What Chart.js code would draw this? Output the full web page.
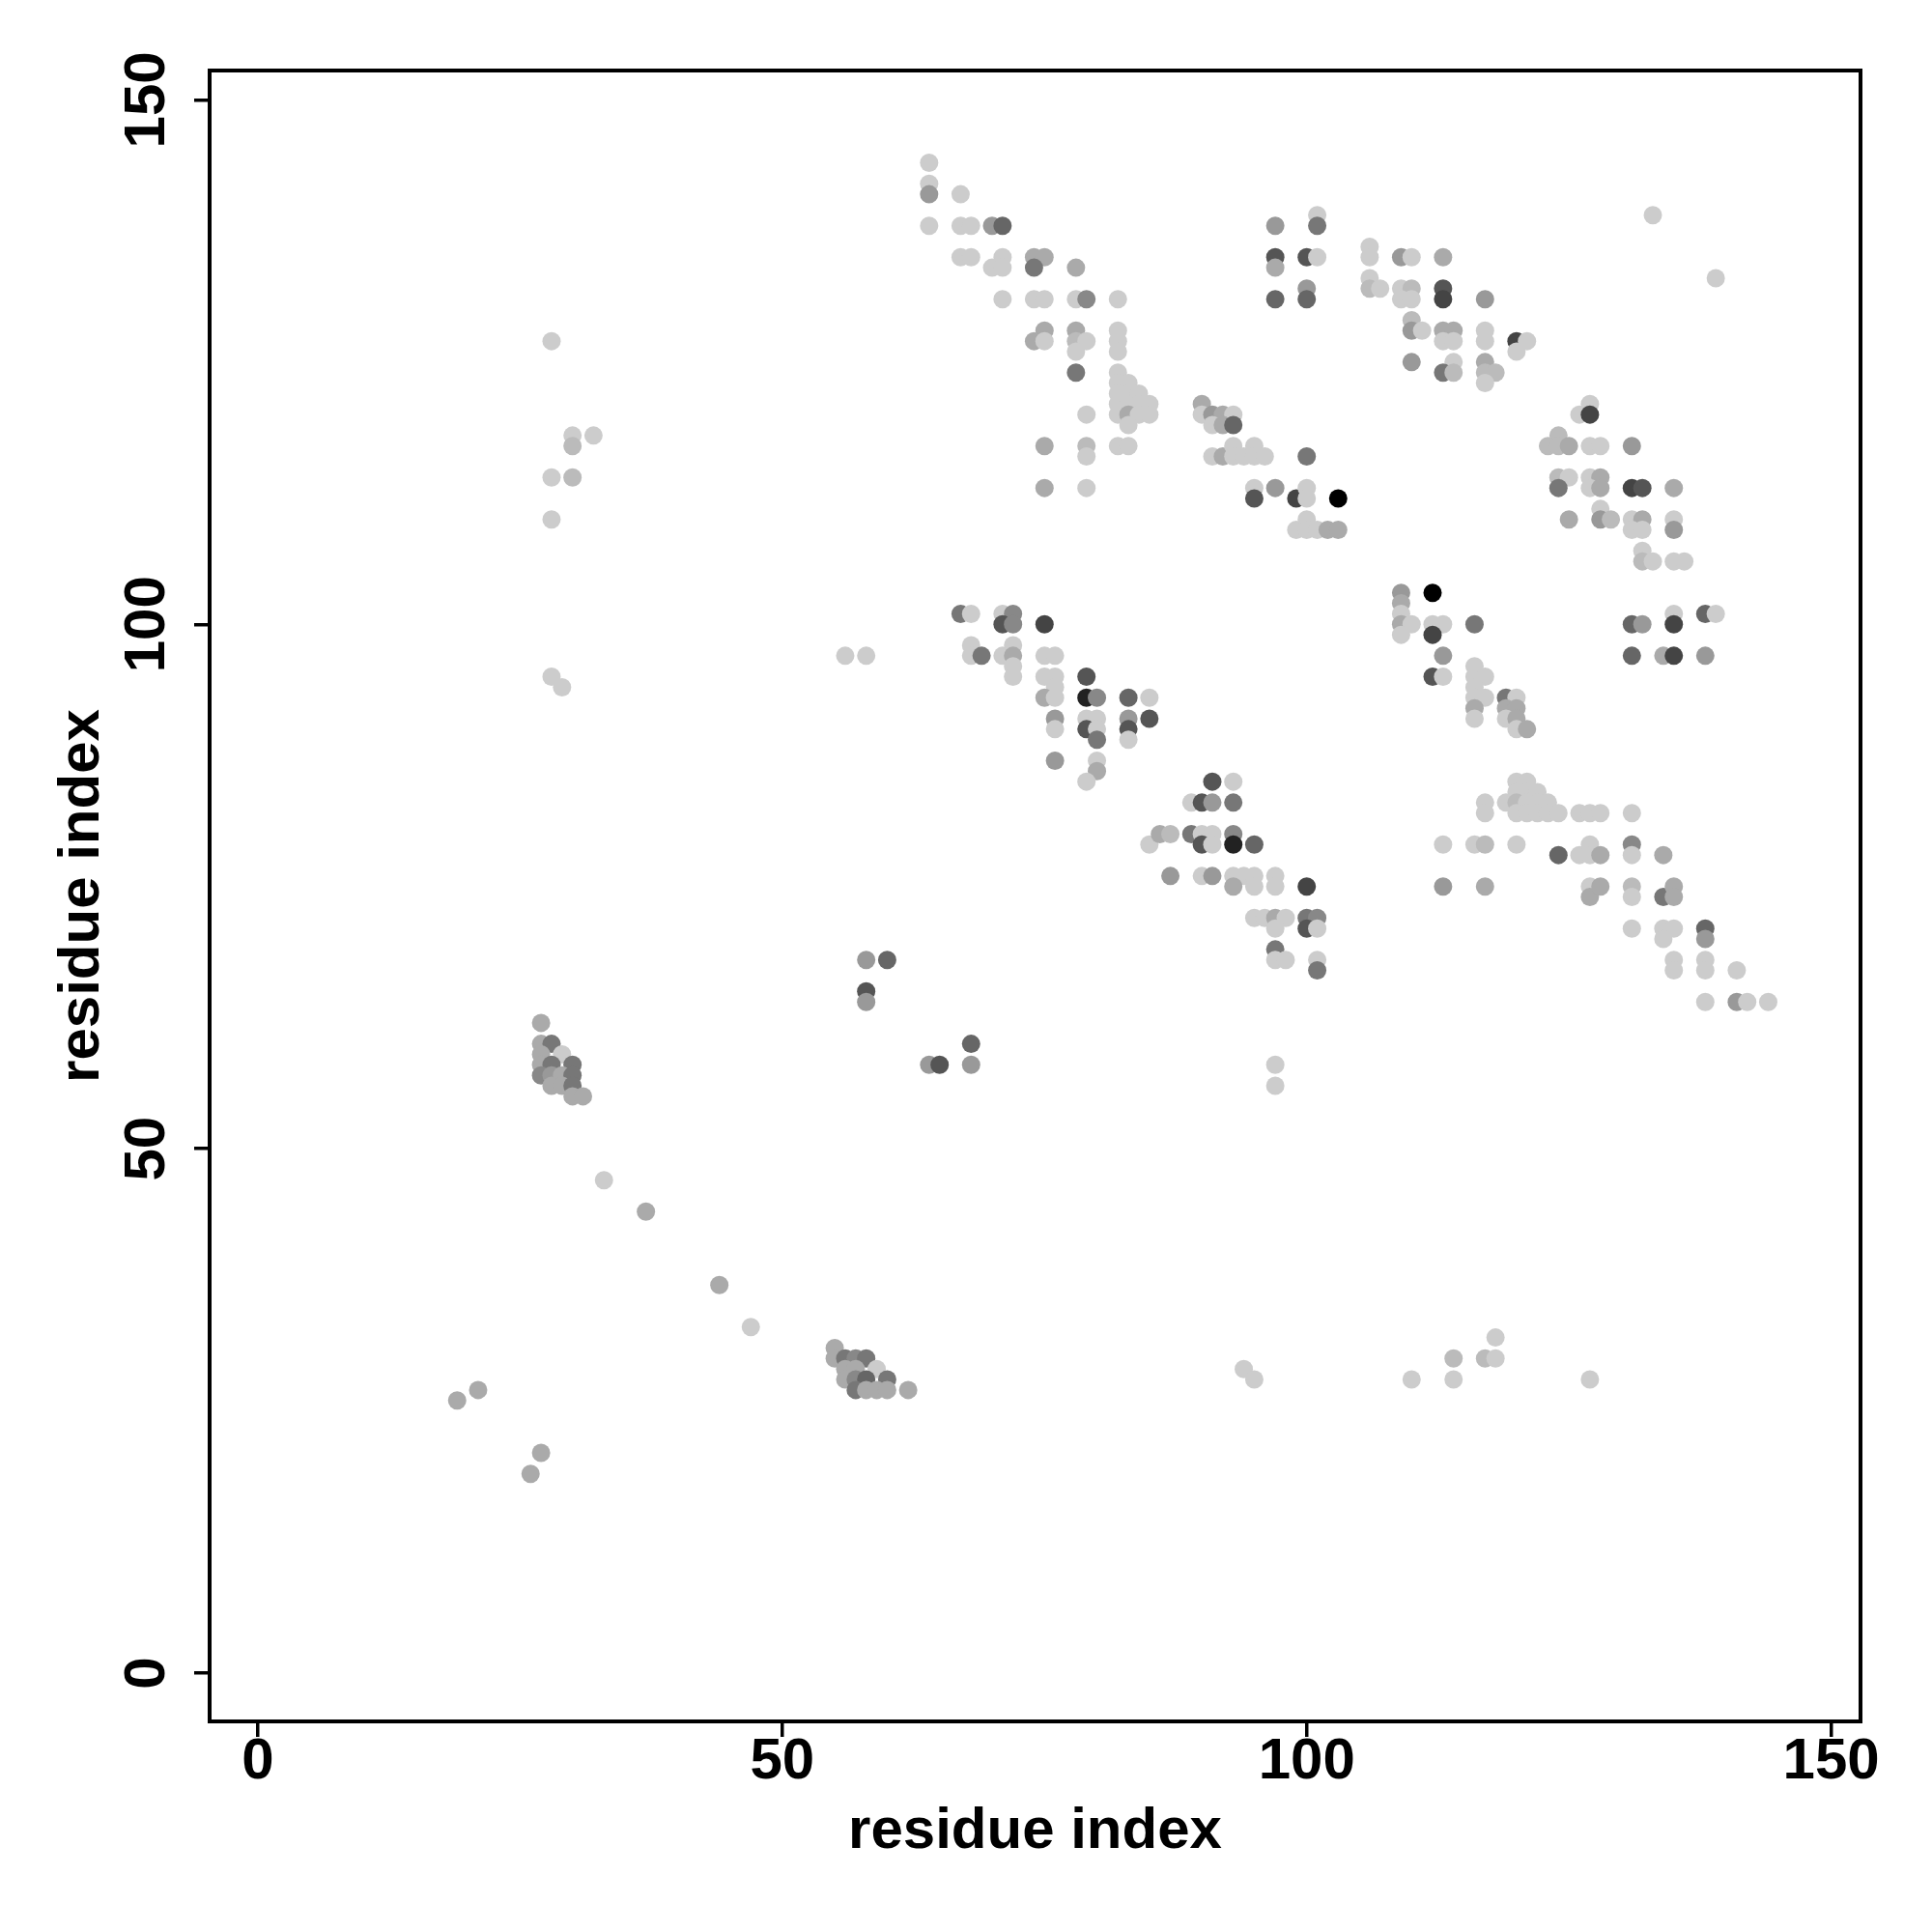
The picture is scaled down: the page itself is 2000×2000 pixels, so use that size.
<!DOCTYPE html>
<html>
<head>
<meta charset="utf-8">
<script src="https://cdn.jsdelivr.net/npm/chart.js@4.4.1/dist/chart.umd.min.js"></script>
<style>
  body { margin: 0; background: #fff; }
</style>
</head>
<body>
<canvas id="contactMap" width="2000" height="2000"></canvas>
<script>
// residue pairs in contact (i on x, j on y) and the grey level of each dot
const residueI = [
  64,64,64,67,64,67,68,70,71,67,68,71,74,75,70,71,74,78,71,74,75,78,79,82,75,78,82,74,75,78,79,82,78,82,78,82,82,83,82,83,84,82,83,84,85,82,83,84,85,83,79,75,79,79,82,83,75,79,
  97,101,101,97,97,100,101,97,100,100,106,106,109,110,113,106,106,107,109,110,109,110,113,113,117,110,110,111,113,114,113,114,117,117,120,121,120,110,114,113,114,117,117,118,117,
  90,90,91,92,93,91,92,93,91,92,93,93,94,95,95,96,100,95,95,97,99,100,100,103,99,100,100,101,102,103,
  127,126,127,124,123,124,125,127,128,131,124,125,124,127,128,127,128,131,132,135,125,128,128,129,131,132,131,132,135,135,132,132,133,135,136,131,132,135,135,138,139,131,134,135,138,
  67,68,71,72,71,72,75,68,68,69,71,72,72,72,72,75,76,75,76,76,75,76,79,79,80,83,85,76,76,79,80,79,80,80,83,85,83,83,76,80,80,79,91,93,89,90,91,93,85,86,87,89,90,91,90,91,93,93,95,87,90,91,93,94,95,97,93,95,97,100,
  95,96,97,98,97,100,101,100,101,97,97,98,101,101,97,97,
  109,109,109,109,110,109,112,112,113,112,116,113,112,113,116,116,117,116,116,117,116,116,119,120,119,120,119,120,120,121,120,121,120,121,122,119,120,121,122,123,120,121,122,123,124,126,127,128,131,117,117,113,116,117,120,124,126,127,127,128,131,131,134,113,117,127,127,128,131,131,134,135,135,
  131,134,135,134,138,138,135,135,138,138,141,138,141,142,144,
  28,30,30,32,28,30,28,56,58,28,29,133,139,
  27,27,28,27,29,27,28,30,27,28,29,30,28,29,30,30,31,33,37,58,60,58,58,64,65,68,68,
  19,21,26,27,44,47,55,55,56,57,58,56,57,59,56,57,58,60,57,58,59,60,62,
  94,95,110,114,114,117,118,118,127
];
const residueJ = [
  144,142,141,141,138,138,138,138,138,135,135,135,135,135,134,134,134,134,131,131,131,131,131,131,128,128,128,127,127,127,127,127,126,126,124,124,123,123,122,122,122,121,121,121,121,120,120,120,120,119,120,117,117,116,117,117,113,113,
  138,139,138,135,134,135,135,131,132,131,136,135,135,135,135,133,132,132,132,132,131,131,132,131,131,129,128,128,128,128,127,127,128,127,127,127,126,125,125,124,124,125,124,124,123,
  121,120,120,120,120,119,119,119,116,116,117,116,116,117,116,116,116,113,112,113,112,113,112,112,109,110,109,109,109,109,
  121,120,120,118,117,117,117,117,117,117,114,114,113,114,114,113,113,113,113,113,110,111,110,110,110,110,109,109,110,109,107,106,106,106,106,100,100,101,100,101,101,97,97,97,97,
  101,101,101,101,100,100,100,98,97,97,97,98,97,96,95,97,97,95,95,94,93,93,95,93,93,93,93,91,90,91,91,90,90,89,91,91,90,89,87,87,86,85,85,85,83,83,83,83,79,80,80,80,80,80,79,79,80,79,79,76,76,76,76,76,76,76,75,75,75,75,
  72,72,72,72,71,72,72,71,71,69,68,68,68,67,58,56,
  103,102,101,100,100,99,103,100,100,99,100,97,95,95,96,95,95,94,93,93,92,91,93,93,92,92,91,91,90,90,85,85,84,84,84,83,83,83,83,83,82,82,82,82,82,82,82,82,82,83,82,79,79,79,79,78,78,79,78,78,79,78,78,75,75,75,74,75,75,74,74,75,74,
  71,71,71,70,71,70,68,67,68,67,67,64,64,64,64,
  127,118,117,118,114,114,110,97,97,95,94,139,133,
  62,60,60,59,59,58,58,58,57,57,57,57,56,56,56,55,55,47,44,68,68,65,64,58,58,60,58,
  26,27,19,21,37,33,31,30,30,30,30,29,29,29,28,28,28,28,27,27,27,27,27,
  29,28,28,30,28,30,30,32,28
];
const contactGrey = [
  204,204,153,204,204,204,204,153,102,204,204,204,170,170,204,204,119,170,204,204,204,204,136,204,170,170,204,170,204,187,204,204,204,204,119,204,204,204,204,204,204,204,204,204,204,204,170,204,204,204,204,170,187,204,204,204,170,204,
  153,204,119,85,170,85,204,102,153,102,204,204,153,204,170,204,187,204,204,187,204,204,85,68,153,187,153,204,170,170,204,204,204,204,68,204,204,153,204,119,187,170,187,187,204,
  170,204,153,170,204,204,170,102,204,170,204,204,204,204,204,204,119,204,85,153,68,204,204,0,204,204,204,204,170,170,
  204,204,68,187,187,187,170,204,204,153,187,204,119,204,170,204,170,68,85,170,170,204,153,187,204,170,204,204,204,153,204,187,204,204,204,102,153,204,68,102,204,102,170,68,153,
  119,204,204,136,85,136,68,204,204,119,204,204,170,204,204,204,204,204,204,204,170,204,85,34,136,102,204,153,204,204,204,85,204,119,153,85,85,204,153,204,170,204,85,204,204,85,153,119,204,170,187,119,204,204,85,204,136,34,102,153,204,153,204,204,204,204,170,204,204,68,
  204,204,170,204,204,119,136,85,204,119,204,204,204,119,204,204,
  153,170,204,170,204,204,0,204,204,68,119,153,85,204,204,204,204,204,204,204,170,204,119,204,170,170,204,170,204,170,204,204,204,204,204,204,187,204,204,204,204,204,204,204,204,204,204,204,204,204,204,204,204,187,204,102,204,204,204,170,136,204,170,153,170,204,170,170,187,204,119,170,170,
  204,204,204,204,102,153,204,204,204,204,204,204,153,204,204,
  204,204,187,204,204,187,204,204,204,204,204,204,204,
  170,170,119,170,204,170,119,119,136,153,170,119,170,170,119,170,170,204,170,153,102,85,153,153,85,102,153,
  170,170,170,170,170,204,170,170,119,136,119,170,170,204,170,136,102,119,119,170,170,170,170,
  204,204,204,187,204,187,204,204,204
];
const tickValues = [0, 50, 100, 150];
const axisTitle = 'residue index';

const points = residueI.map((i, k) => ({ x: i, y: residueJ[k] }));
const dotColours = contactGrey.map(g => `rgb(${g},${g},${g})`);

const labelFont = 'bold 60px "Liberation Sans", Arial, sans-serif';

// box round the plot, tick labels and axis titles
const frameAndText = {
  id: 'frameAndText',
  afterDraw(chart) {
    const ctx = chart.ctx;
    const { left, top, right, bottom } = chart.chartArea;
    const xs = chart.scales.x, ys = chart.scales.y;
    ctx.save();
    ctx.strokeStyle = '#000';
    ctx.lineWidth = 4;
    ctx.strokeRect(left, top, right - left, bottom - top);

    ctx.fillStyle = '#000';
    ctx.font = labelFont;
    ctx.textBaseline = 'alphabetic';
    ctx.textAlign = 'center';
    tickValues.forEach(v => {
      ctx.fillText(String(v), xs.getPixelForValue(v), bottom + 59);
    });
    tickValues.forEach(v => {
      ctx.save();
      ctx.translate(left - 47, ys.getPixelForValue(v));
      ctx.rotate(-Math.PI / 2);
      ctx.fillText(String(v), 0, 0);
      ctx.restore();
    });

    ctx.fillText(axisTitle, (left + right) / 2, bottom + 131);
    ctx.translate(left - 115, (top + bottom) / 2);
    ctx.rotate(-Math.PI / 2);
    ctx.fillText(axisTitle, 0, 0);
    ctx.restore();
  }
};

const fixedTicks = scale => { scale.ticks = tickValues.map(v => ({ value: v })); };
const tickMarks = { drawOnChartArea: false, drawTicks: true, tickLength: 16, color: '#000', lineWidth: 3.5 };

const ctx = document.getElementById('contactMap').getContext('2d');
new Chart(ctx, {
  type: 'scatter',
  data: {
    datasets: [{
      data: points,
      pointBackgroundColor: dotColours,
      pointBorderWidth: 0,
      pointRadius: 9.5,
      pointHoverRadius: 9.5
    }]
  },
  options: {
    responsive: false,
    animation: false,
    devicePixelRatio: 1,
    layout: { padding: { left: 0, top: 73, right: 74, bottom: 0 } },
    plugins: { legend: { display: false }, tooltip: { enabled: false } },
    scales: {
      x: {
        type: 'linear', min: -4.6, max: 152.8,
        afterBuildTicks: fixedTicks,
        afterFit: s => { s.height = 218; },
        ticks: { display: false },
        grid: tickMarks,
        border: { display: false }
      },
      y: {
        type: 'linear', min: -4.6, max: 152.8,
        afterBuildTicks: fixedTicks,
        afterFit: s => { s.width = 217; },
        ticks: { display: false },
        grid: tickMarks,
        border: { display: false }
      }
    }
  },
  plugins: [frameAndText]
});
</script>
</body>
</html>
